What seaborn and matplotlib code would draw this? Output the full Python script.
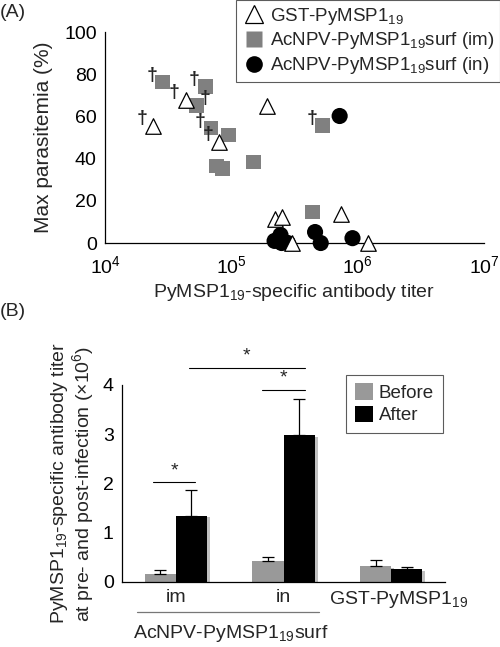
import matplotlib
matplotlib.use("Agg")
import matplotlib.pyplot as plt
import matplotlib.patheffects as pe
from matplotlib.lines import Line2D
import numpy as np
import pandas as pd
import seaborn as sns

# ---- Panel A data: antibody titer vs max parasitemia ----
gst_titer = [2.4e4, 4.35e4, 1.9e5, 8.0e4, 2.2e5, 2.5e5, 7.4e5, 3.0e5, 1.2e6]
gst_para = [55.5, 68, 65, 48, 11.4, 12.5, 13.7, 0, 0]
gst_dead = ["l", "l", "", "l", "", "", "", "", ""]

im_titer = [2.87e4, 6.2e4, 5.3e4, 6.9e4, 9.5e4, 7.6e4, 8.5e4, 1.49e5, 5.3e5, 4.4e5]
im_para = [76.3, 74, 65, 54.5, 51.2, 36.5, 35.5, 38.4, 55.5, 14.7]
im_dead = ["l", "l", "r", "l", "", "", "", "", "l", ""]

in_titer = [7.2e5, 2.2e5, 2.45e5, 2.5e5, 2.8e5, 4.6e5, 5.1e5, 9.1e5]
in_para = [60.2, 1, 3.8, 0, 0, 5.2, 0, 2.3]
in_dead = ["", "", "", "", "", "", "", ""]

group_names = ["GST-PyMSP1$_{19}$",
               "AcNPV-PyMSP1$_{19}$surf (im)",
               "AcNPV-PyMSP1$_{19}$surf (in)"]

# ---- Panel B data: titer before / after infection (x10^6) ----
b_groups = ["im", "in", "GST"]
before_mean = [0.17, 0.43, 0.32]
before_err = [0.07, 0.07, 0.12]
after_mean = [1.34, 2.98, 0.26]
after_err = [0.52, 0.73, 0.04]

sns.set_theme(style="white")
plt.rcParams["font.family"] = ["Liberation Sans", "DejaVu Sans"]
plt.rcParams["mathtext.fontset"] = "custom"
plt.rcParams["mathtext.rm"] = "Liberation Sans"
plt.rcParams["mathtext.it"] = "Liberation Sans"

fig = plt.figure(figsize=(5, 6.47), dpi=100)

# ================= Panel A =================
axA = fig.add_axes([0.21, 0.6244, 0.758, 0.3261])

dfA = pd.DataFrame({
    "titer": gst_titer + im_titer + in_titer,
    "para": gst_para + im_para + in_para,
    "grp": [group_names[0]] * len(gst_titer) + [group_names[1]] * len(im_titer)
           + [group_names[2]] * len(in_titer),
    "dead": gst_dead + im_dead + in_dead,
})

sns.scatterplot(data=dfA[dfA.grp == group_names[1]], x="titer", y="para",
                marker="s", color="#808080", s=115, edgecolor="none", ax=axA,
                clip_on=False, zorder=3)
sns.scatterplot(data=dfA[dfA.grp == group_names[2]], x="titer", y="para",
                marker="o", color="black", s=135, edgecolor="none", ax=axA,
                clip_on=False, zorder=3)
sns.scatterplot(data=dfA[dfA.grp == group_names[0]], x="titer", y="para",
                marker="^", facecolor="white", edgecolor="black", linewidth=0.9,
                s=125, ax=axA, clip_on=False, zorder=4)

# daggers for mice that died
for _, r in dfA.iterrows():
    if r.dead == "l":
        axA.annotate("†", (r.titer, r.para), xytext=(-8, 5), textcoords="offset points",
                     ha="center", va="center", fontsize=14, fontweight="bold")
    elif r.dead == "r":
        axA.annotate("†", (r.titer, r.para), xytext=(6, 5), textcoords="offset points",
                     ha="center", va="center", fontsize=14, fontweight="bold")

axA.set_xscale("log")
axA.set_xlim(1e4, 1e7)
axA.set_ylim(0, 100)
axA.set_xticks([1e4, 1e5, 1e6, 1e7])
axA.set_xticklabels(["10$^4$", "10$^5$", "10$^6$", "10$^7$"])
axA.minorticks_off()
axA.set_yticks([0, 20, 40, 60, 80, 100])
axA.tick_params(labelsize=14, length=2, direction="in", width=0.6, colors="black")
axA.tick_params(axis="x", pad=9)
axA.tick_params(axis="y", pad=6)
axA.set_xlabel("PyMSP1$_{19}$-specific antibody titer", fontsize=14, labelpad=3)
axA.set_ylabel("Max parasitemia (%)", fontsize=15, labelpad=8)
for s in ["top", "right"]:
    axA.spines[s].set_visible(False)
for s in ["left", "bottom"]:
    axA.spines[s].set_color("black")
    axA.spines[s].set_linewidth(0.9)
axA.set_facecolor("white")

handlesA = [
    Line2D([], [], marker="^", ls="", mfc="white", mec="black", ms=13, mew=0.9),
    Line2D([], [], marker="s", ls="", mfc="#808080", mec="none", ms=12),
    Line2D([], [], marker="o", ls="", mfc="black", mec="none", ms=12),
]
legA = fig.legend(handlesA, group_names, loc="upper right", bbox_to_anchor=(1.0, 1.0),
                  fontsize=13.5, frameon=True, fancybox=False, edgecolor="#333333",
                  handletextpad=0.2, borderpad=0.3, labelspacing=0.2, handlelength=1.3,
                  borderaxespad=0.0)
legA.get_frame().set_linewidth(0.8)

fig.text(0.0, 0.98, "(A)", fontsize=14, ha="left", va="center")

# ================= Panel B =================
axB = fig.add_axes([0.244, 0.1005, 0.646, 0.3045])

dfB = pd.DataFrame({
    "grp": b_groups * 2,
    "when": ["Before"] * 3 + ["After"] * 3,
    "val": before_mean + after_mean,
})
shadow = [pe.SimplePatchShadow(offset=(2, -1), shadow_rgbFace="#c0c0c0", alpha=1.0), pe.Normal()]
sns.barplot(data=dfB, x="grp", y="val", hue="when", palette=["#999999", "black"],
            width=0.58, errorbar=None, ax=axB, saturation=1, edgecolor="none")
for p in axB.patches:
    p.set_path_effects(shadow)

xpos = np.arange(len(b_groups))
bw = 0.29
axB.errorbar(xpos - bw / 2, before_mean, yerr=[np.zeros(3), before_err], fmt="none",
             ecolor="black", elinewidth=0.9, capsize=4, capthick=0.9)
axB.errorbar(xpos + bw / 2, after_mean, yerr=[np.zeros(3), after_err], fmt="none",
             ecolor="black", elinewidth=0.9, capsize=4, capthick=0.9)

axB.set_xlim(-0.5, 2.5)
axB.set_ylim(0, 4)
axB.set_yticks([0, 1, 2, 3, 4])
axB.set_xticks([])
axB.set_xlabel("")
axB.set_ylabel("PyMSP1$_{19}$-specific antibody titer\nat pre- and post-infection (×10$^6$)",
               fontsize=14, linespacing=1.0, labelpad=5)
axB.tick_params(labelsize=14, length=2, direction="in", width=0.6, colors="black", pad=6)
for s in ["top", "right"]:
    axB.spines[s].set_visible(False)
for s in ["left", "bottom"]:
    axB.spines[s].set_color("black")
    axB.spines[s].set_linewidth(0.9)
axB.set_facecolor("white")

# significance bars
sig = [(-0.21, 0.18, 2.03), (0.80, 1.20, 3.9), (0.12, 1.20, 4.35)]
for x0, x1, yv in sig:
    axB.plot([x0, x1], [yv, yv], color="black", lw=0.8, clip_on=False)
    axB.text((x0 + x1) / 2, yv + 0.06, "*", ha="center", va="bottom", fontsize=14)

# group labels under the axis
tr = axB.get_xaxis_transform()
axB.text(0, -0.08, "im", transform=tr, ha="center", va="center", fontsize=14)
axB.text(1, -0.08, "in", transform=tr, ha="center", va="center", fontsize=14)
axB.text(2.07, -0.09, "GST-PyMSP1$_{19}$", transform=tr, ha="center", va="center", fontsize=14)
axB.plot([-0.36, 1.33], [-0.15, -0.15], transform=tr, color="#777777", lw=0.9, clip_on=False)
axB.text(0.51, -0.26, "AcNPV-PyMSP1$_{19}$surf", transform=tr, ha="center", va="center",
         fontsize=14)

legB = axB.legend(loc="upper left", bbox_to_anchor=(0.665, 1.10), fontsize=13.5,
                  frameon=True, fancybox=False, edgecolor="#333333", handlelength=1.0,
                  handleheight=1.0, handletextpad=0.3, borderpad=0.45, labelspacing=0.2)
legB.get_frame().set_linewidth(0.8)
for h in legB.legend_handles:
    h.set_path_effects([])

fig.text(0.0, 0.518, "(B)", fontsize=14, ha="left", va="center")

fig.savefig("out.png", dpi=100, facecolor="white")
